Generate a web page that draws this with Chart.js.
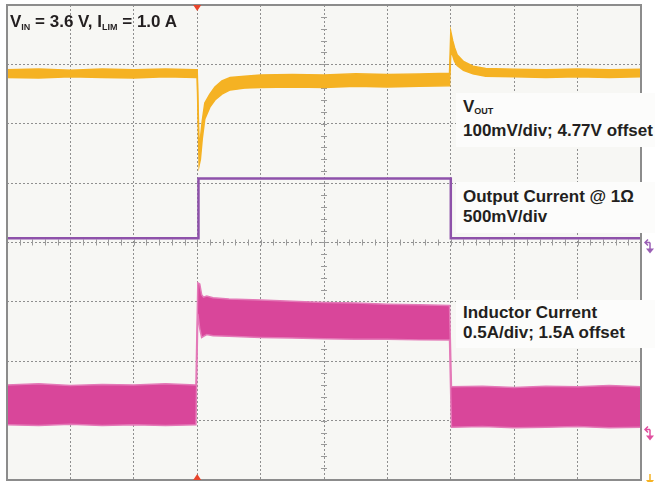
<!DOCTYPE html>
<html lang="en">

<head>
  <meta charset="UTF-8" />
  <title>Load Transient | Scope Capture</title>
  <script src="https://cdn.jsdelivr.net/npm/chart.js@4.4.1/dist/chart.umd.min.js"></script>
  <style>
    body { margin: 0; background: #ffffff; }
    .scope { position: relative; width: 655px; height: 482px; font-family: "Liberation Sans", Arial, sans-serif; font-weight: bold; color: #231f20; }
    .scope canvas { position: absolute; left: 0; top: 0; }
    .note { position: absolute; font-size: 17px; line-height: 20px; white-space: nowrap; box-sizing: border-box; }
    .note.box { background: #fcfcfb; padding-left: 7px; width: 199px; }
    .note sub { font-size: 9px; vertical-align: baseline; position: relative; top: 2px; }
    .title { left: 10px; top: 12px; }
    .title sub { top: 3px; }
  </style>
</head>

<body>
  <div class="scope">
    <canvas id="scope-graph" width="655" height="482"></canvas>
    <div class="note title">V<sub>IN</sub> = 3.6 V, I<sub>LIM</sub> = 1.0 A</div>
    <div class="note box" style="left:456px; top:93px; height:54px; padding-top:3px; line-height:21px;">V<sub>OUT</sub><br>100mV/div; 4.77V offset</div>
    <div class="note box" style="left:456px; top:182px; height:51px; padding-top:5px;">Output Current @ 1Ω<br>500mV/div</div>
    <div class="note box" style="left:456px; top:300px; height:48px; padding-top:3px;">Inductor Current<br>0.5A/div; 1.5A offset</div>
  </div>

<script>
  // time axis in divisions (10 div), vertical axis in divisions (8 div)
  const voutX = [0, 0.5, 1, 1.5, 2, 2.5, 2.98, 3.0, 3.03, 3.05, 3.08, 3.12, 3.2, 3.28, 3.39, 3.52, 3.75, 4.0, 4.5, 5.0, 5.5, 6.0, 6.5, 6.98, 7.0, 7.03, 7.06, 7.1, 7.2, 7.35, 7.55, 8.0, 8.5, 9.0, 9.5, 10];
  const voutHi = [6.91, 6.92, 6.90, 6.92, 6.91, 6.92, 6.91, 6.91, 5.60, 5.75, 6.05, 6.35, 6.50, 6.62, 6.72, 6.78, 6.80, 6.82, 6.83, 6.82, 6.84, 6.83, 6.84, 6.85, 7.55, 7.40, 7.28, 7.16, 7.05, 6.97, 6.93, 6.92, 6.91, 6.92, 6.91, 6.92];
  const voutLo = [6.78, 6.77, 6.79, 6.78, 6.77, 6.79, 6.78, 6.78, 5.30, 5.40, 5.75, 6.08, 6.28, 6.40, 6.50, 6.57, 6.60, 6.61, 6.62, 6.61, 6.63, 6.62, 6.63, 6.64, 7.20, 7.15, 7.05, 6.98, 6.90, 6.84, 6.80, 6.79, 6.78, 6.79, 6.78, 6.79];

  const ioutX = [0, 3.02, 3.02, 7.0, 7.0, 10];
  const ioutY = [4.07, 4.07, 5.08, 5.08, 4.07, 4.07];

  const indX = [0, 0.5, 1, 1.5, 2, 2.5, 2.98, 3.01, 3.04, 3.07, 3.1, 3.15, 3.25, 3.5, 4, 4.5, 5, 5.5, 6, 6.5, 6.98, 7.01, 7.5, 8, 8.5, 9, 9.5, 10];
  const indHi = [1.60, 1.62, 1.59, 1.61, 1.60, 1.62, 1.60, 3.32, 3.30, 3.12, 3.08, 3.10, 3.07, 3.05, 3.03, 3.01, 2.99, 2.98, 2.96, 2.95, 2.94, 1.57, 1.58, 1.56, 1.58, 1.57, 1.59, 1.57];
  const indLo = [0.93, 0.92, 0.94, 0.92, 0.93, 0.92, 0.93, 2.80, 2.55, 2.40, 2.42, 2.45, 2.43, 2.42, 2.40, 2.39, 2.38, 2.37, 2.37, 2.36, 2.36, 0.89, 0.90, 0.88, 0.89, 0.90, 0.88, 0.89];

  const triggerX = 3.0;
  // channel ground markers on the right edge
  const markerY = { out: 4.0, ind: 0.85, vout: 0.1 };

  const pts = (xs, ys) => xs.map((x, i) => ({ x: x, y: ys[i] }));

  const scopeFrame = {
    id: 'scopeFrame',
    beforeDraw(chart) {
      const { ctx, chartArea: a } = chart;
      ctx.save();
      ctx.fillStyle = '#f7f7f4';
      ctx.fillRect(a.left, a.top, a.right - a.left, a.bottom - a.top);
      ctx.restore();
    },
    beforeDatasetsDraw(chart) {
      // minor ticks on the centre cross
      const { ctx, scales: { x, y } } = chart;
      const cx = x.getPixelForValue(5), cy = y.getPixelForValue(4);
      ctx.save();
      ctx.strokeStyle = '#9a9a9a';
      ctx.lineWidth = 1;
      ctx.beginPath();
      for (let v = 0.2; v < 10; v += 0.2) {
        const px = Math.round(x.getPixelForValue(v)) + 0.5;
        ctx.moveTo(px, cy - 3); ctx.lineTo(px, cy + 3);
      }
      for (let v = 0.2; v < 8; v += 0.2) {
        const py = Math.round(y.getPixelForValue(v)) + 0.5;
        ctx.moveTo(cx - 3, py); ctx.lineTo(cx + 3, py);
      }
      ctx.stroke();
      ctx.restore();
    },
    afterDatasetsDraw(chart) {
      const { ctx, chartArea: a, scales: { x, y } } = chart;
      ctx.save();
      ctx.strokeStyle = '#8c8c8c';
      ctx.lineWidth = 2;
      ctx.strokeRect(a.left, a.top, a.right - a.left, a.bottom - a.top);

      // trigger markers
      const tx = x.getPixelForValue(triggerX);
      ctx.fillStyle = '#e8452c';
      ctx.beginPath();
      ctx.moveTo(tx - 4, a.top); ctx.lineTo(tx + 4, a.top); ctx.lineTo(tx, a.top + 6); ctx.closePath();
      ctx.moveTo(tx - 4, a.bottom); ctx.lineTo(tx + 4, a.bottom); ctx.lineTo(tx, a.bottom - 6); ctx.closePath();
      ctx.fill();

      // channel markers
      const mark = (val, color, arrow) => {
        const py = y.getPixelForValue(val);
        const mx = a.right + 9;
        ctx.strokeStyle = color;
        ctx.fillStyle = color;
        ctx.lineWidth = 1.5;
        ctx.beginPath();
        if (arrow) {
          ctx.moveTo(a.right + 4, py); ctx.lineTo(mx, py);
          ctx.moveTo(a.right + 7, py - 3); ctx.lineTo(a.right + 4, py); ctx.lineTo(a.right + 7, py + 3);
        }
        ctx.moveTo(mx, py); ctx.lineTo(mx, py + 7);
        ctx.stroke();
        ctx.beginPath();
        ctx.moveTo(mx - 4, py + 6); ctx.lineTo(mx + 4, py + 6); ctx.lineTo(mx, py + 11); ctx.closePath();
        ctx.fill();
      };
      mark(markerY.out, '#9a5fb5', true);
      mark(markerY.ind, '#e0509f', true);
      mark(markerY.vout, '#f5b223', false);
      ctx.restore();
    }
  };

  const scopeChart = new Chart(document.getElementById('scope-graph').getContext('2d'), {
    type: 'scatter',
    data: {
      datasets: [
        {
          label: 'Inductor low',
          data: pts(indX, indLo),
          showLine: true,
          borderColor: '#e47ab8',
          borderWidth: 1.5,
          pointRadius: 0,
          fill: false
        },
        {
          label: 'Inductor Current',
          data: pts(indX, indHi),
          showLine: true,
          borderColor: '#e47ab8',
          borderWidth: 1.5,
          backgroundColor: '#d9469a',
          pointRadius: 0,
          fill: '-1'
        },
        {
          label: 'VOUT low',
          data: pts(voutX, voutLo),
          showLine: true,
          borderColor: '#f5b223',
          borderWidth: 1.5,
          pointRadius: 0,
          fill: false
        },
        {
          label: 'VOUT',
          data: pts(voutX, voutHi),
          showLine: true,
          borderColor: '#f5b223',
          borderWidth: 1.5,
          backgroundColor: '#f5b223',
          pointRadius: 0,
          fill: '-1'
        },
        {
          label: 'Output Current',
          data: pts(ioutX, ioutY),
          showLine: true,
          borderColor: '#8e52aa',
          borderWidth: 2.5,
          pointRadius: 0,
          fill: false
        }
      ]
    },
    options: {
      responsive: false,
      animation: false,
      devicePixelRatio: 1,
      layout: { padding: { left: 7, top: 5, right: 14, bottom: 2 } },
      plugins: { legend: { display: false }, tooltip: { enabled: false } },
      scales: {
        x: {
          type: 'linear',
          min: 0,
          max: 10,
          ticks: { display: false, stepSize: 1 },
          grid: { drawTicks: false, color: '#8f8f8f', lineWidth: 1 },
          border: { display: false, dash: [2, 2] }
        },
        y: {
          type: 'linear',
          min: 0,
          max: 8,
          ticks: { display: false, stepSize: 1 },
          grid: { drawTicks: false, color: '#8f8f8f', lineWidth: 1 },
          border: { display: false, dash: [2, 2] }
        }
      }
    },
    plugins: [scopeFrame]
  });
</script>
</body>

</html>
